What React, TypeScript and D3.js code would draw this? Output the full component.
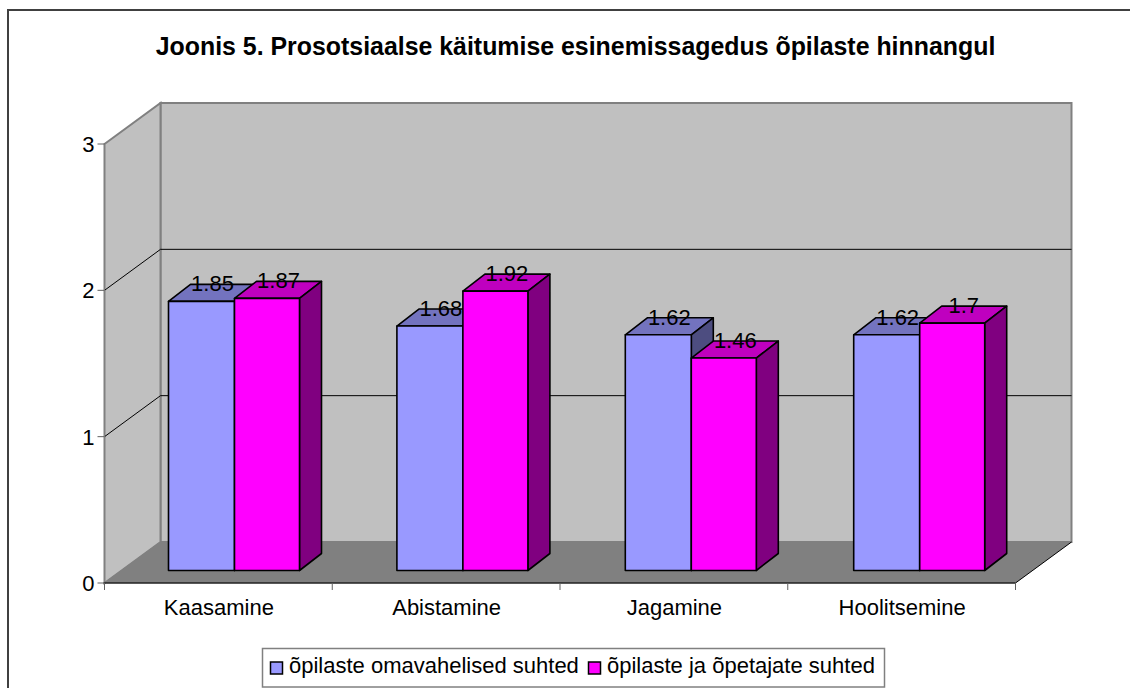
import React from "react";
import * as d3 from "d3";

const titleText = "Joonis 5. Prosotsiaalse käitumise esinemissagedus õpilaste hinnangul";
const categories = ["Kaasamine", "Abistamine", "Jagamine", "Hoolitsemine"];
const seriesNames = ["õpilaste omavahelised suhted", "õpilaste ja õpetajate suhted"];
const series1 = [1.85, 1.68, 1.62, 1.62];
const series2 = [1.87, 1.92, 1.46, 1.7];
const yTicks = [0, 1, 2, 3];

const W = 1130, H = 688;
const X0 = 104.5, X1 = 1015.5, Y0 = 583, Y3 = 144;
const DX = 56, DY = -41;
const BDX = 22, BDY = -17;
const FS = 22;
const font = "'Liberation Sans', Arial, sans-serif";

const yAxis = d3.scaleLinear().domain([0, 3]).range([Y0, Y3]);
const xBand = d3.scaleBand<string>().domain(categories).range([X0, X1]);
const xBars = d3.scaleBand<string>().domain(categories).range([168.5, 168.5 + 4 * 228.4]);
const yBar = d3.scaleLinear().domain([0, 3]).range([570.5, 570.5 - 3 * 145.5]);
const pts = (a: number[][]) => a.map((p) => p.join(",")).join(" ");

function Bar({ x0, x1, v, front, top, side }: { x0: number; x1: number; v: number; front: string; top: string; side: string }) {
  const y = yBar(v), b = yBar(0);
  return (
    <g stroke="#000" strokeWidth={1.6} strokeLinejoin="round">
      <polygon points={pts([[x0, y], [x0 + BDX, y + BDY], [x1 + BDX, y + BDY], [x1, y]])} fill={top} />
      <polygon points={pts([[x1, y], [x1 + BDX, y + BDY], [x1 + BDX, b + BDY], [x1, b]])} fill={side} />
      <rect x={x0} y={y} width={x1 - x0} height={b - y} fill={front} />
    </g>
  );
}

export default function App() {
  const bw = xBand.bandwidth();
  return (
    <svg width={W} height={H} style={{ position: "absolute", left: 0, top: 0, display: "block" }} fontFamily={font}>
      <rect width={W} height={H} fill="#fff" />
      <path d={`M8 ${H}V10H${W}`} fill="none" stroke="#404040" strokeWidth={2} />
      <text x={575.5} y={55} textAnchor="middle" fontSize={24.9} fontWeight="bold" fill="#000">{titleText}</text>

      <polygon points={pts([[X0 + DX, Y3 + DY], [X1 + DX, Y3 + DY], [X1 + DX, Y0 + DY], [X0 + DX, Y0 + DY]])} fill="#c0c0c0" stroke="#808080" strokeWidth={2} />
      <polygon points={pts([[X0, Y3], [X0 + DX, Y3 + DY], [X0 + DX, Y0 + DY], [X0, Y0]])} fill="#c0c0c0" stroke="#808080" strokeWidth={2} />
      <polygon points={pts([[X0, Y0], [X0 + DX, Y0 + DY], [X1 + DX, Y0 + DY], [X1, Y0]])} fill="#808080" />
      <path d={`M${X1} ${Y0}L${X1 + DX} ${Y0 + DY}`} stroke="#000" />
      {yTicks.slice(1, 3).map((t) => (
        <path key={t} d={`M${X0} ${yAxis(t)}L${X0 + DX} ${yAxis(t) + DY}H${X1 + DX}`} fill="none" stroke="#000" strokeWidth={1} />
      ))}
      <path d={`M${X0} ${Y0}L${X0 + DX} ${Y0 + DY}`} stroke="#808080" />

      <path d={`M${X0} ${Y3}V${Y0}`} stroke="#808080" strokeWidth={1} />
      <path d={`M${X0 - 1} ${Y0}H${X1}`} stroke="#222" strokeWidth={1.4} />
      {yTicks.map((t) => (
        <g key={t}>
          <path d={`M${X0 - 7} ${yAxis(t)}H${X0}`} stroke="#606060" />
          <text x={X0 - 10} y={yAxis(t) + 8} textAnchor="end" fontSize={FS} fill="#000">{t}</text>
        </g>
      ))}
      {[...categories.map((c) => xBand(c)!), X1].map((x, i) => (
        <path key={i} d={`M${x} ${Y0}V${Y0 + 7}`} stroke="#606060" />
      ))}
      {categories.map((c) => (
        <text key={c} x={xBand(c)! + bw / 2 + 0.5} y={614.5} textAnchor="middle" fontSize={FS} fill="#000">{c}</text>
      ))}

      {categories.map((c, i) => {
        const x = xBars(c)!;
        const m = x + 66, e = x + 131;
        return (
          <g key={c}>
            <Bar x0={x} x1={m} v={series1[i]} front="#9999ff" top="#7373bf" side="#4d4d80" />
            <Bar x0={m} x1={e} v={series2[i]} front="#ff00ff" top="#bf00bf" side="#800080" />
          </g>
        );
      })}
      {categories.map((c, i) => {
        const x = xBars(c)!;
        return (
          <g key={c} fontSize={FS} fill="#000" textAnchor="middle">
            <text x={x + 44} y={yBar(series1[i]) - 10}>{series1[i]}</text>
            <text x={x + 110} y={yBar(series2[i]) - 10}>{series2[i]}</text>
          </g>
        );
      })}

      <rect x={262.5} y={648.5} width={622} height={38.5} fill="#fff" stroke="#808080" strokeWidth={1.5} />
      <rect x={270.5} y={662} width={12} height={12} fill="#9999ff" stroke="#000" strokeWidth={1.5} />
      <text x={289} y={673} fontSize={FS} fill="#000">{seriesNames[0]}</text>
      <rect x={588.5} y={662} width={12} height={12} fill="#ff00ff" stroke="#000" strokeWidth={1.5} />
      <text x={607} y={673} fontSize={FS} fill="#000">{seriesNames[1]}</text>
    </svg>
  );
}
